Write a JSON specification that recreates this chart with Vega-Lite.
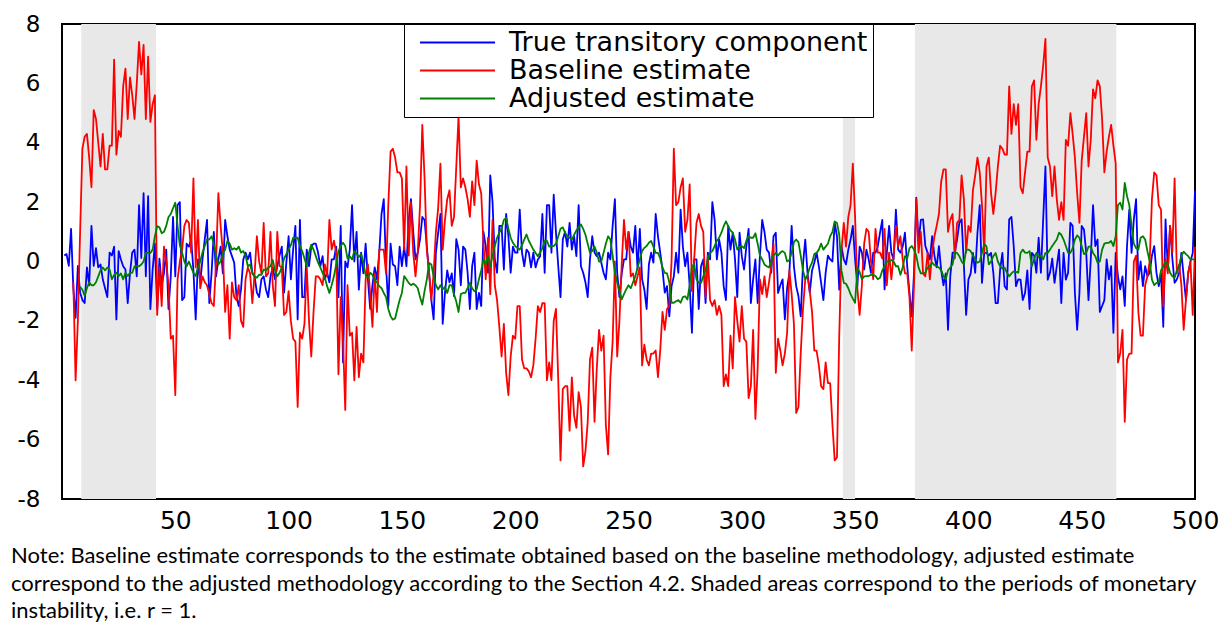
{
"$schema": "https://vega.github.io/schema/vega-lite/v6.json",
"width": 1133, "height": 475,
"autosize": {"type": "none"},
"padding": {"left": 62, "top": 24, "right": 28, "bottom": 125},
"background": "white",
"title": {"text": ["Note: Baseline estimate corresponds to the estimate obtained based on the baseline methodology, adjusted estimate", "correspond to the adjusted methodology according to the Section 4.2. Shaded areas correspond to the periods of monetary", "instability, i.e. r = 1."], "orient": "bottom", "anchor": "start", "frame": "bounds", "offset": 13, "font": "Lato", "fontSize": 22, "fontWeight": "normal", "color": "black", "lineHeight": 27.5, "dx": -6},
"datasets": {
"shade": [{"s": 8.5, "e": 41.5}, {"s": 344.6, "e": 350}, {"s": 376.4, "e": 465.3}],
"obs": [
{"t":1,"a":0.2},{"t":2,"a":0.25},{"t":3,"a":-0.15},{"t":4,"a":1.1},
{"t":5,"a":-0.9,"b":-0.7},{"t":6,"a":-1.9,"b":-4.0},{"t":7,"a":-0.15,"b":-2.0},
{"t":8,"a":-1.05,"b":1.0,"c":-0.85},{"t":9,"a":-1.3,"b":3.8,"c":-0.95},{"t":10,"a":-1.4,"b":4.2,"c":-1.15},
{"t":11,"a":-0.2,"b":4.3,"c":-0.9},{"t":12,"a":-0.8,"b":3.5,"c":-0.7},{"t":13,"a":1.2,"b":2.5,"c":-0.8},{"t":14,"a":-0.15,"b":5.1,"c":-0.8},{"t":15,"a":0.45,"b":4.8,"c":-0.7},
{"t":16,"a":-0.2,"b":4.0,"c":-0.5},{"t":17,"a":-0.1,"b":3.2,"c":-0.3},{"t":18,"a":-0.6,"b":4.3,"c":-0.2},{"t":19,"a":-0.9,"b":3.1,"c":-0.3},{"t":20,"a":-1.2,"b":3.1,"c":-0.2},
{"t":21,"a":0.3,"b":3.9,"c":-0.27},{"t":22,"a":0.2,"b":3.9,"c":-0.6},{"t":23,"a":0.5,"b":6.8,"c":-0.45},{"t":24,"a":-1.95,"b":3.6,"c":-0.38},{"t":25,"a":0.35,"b":4.4,"c":-0.49},
{"t":26,"a":0.07,"b":4.2,"c":-0.4},{"t":27,"a":-0.16,"b":5.9,"c":-0.6},{"t":28,"a":-0.27,"b":6.5,"c":-0.38},{"t":29,"a":-1.4,"b":4.8,"c":-0.49},{"t":30,"a":-0.4,"b":6.2,"c":-0.38},
{"t":31,"a":0.3,"b":5.6,"c":-0.38},{"t":32,"a":0.4,"b":4.8,"c":-0.16},{"t":33,"a":-0.5,"b":6.0,"c":-0.16},{"t":34,"a":1.9,"b":7.4,"c":-0.16},{"t":35,"a":0.12,"b":6.3,"c":-0.1},
{"t":36,"a":2.3,"b":7.3,"c":0.0},{"t":37,"a":-0.5,"b":4.8,"c":0.29},{"t":38,"a":2.2,"b":6.9,"c":0.29},{"t":39,"a":-1.6,"b":4.7,"c":0.29},{"t":40,"a":-0.27,"b":5.3,"c":0.4},
{"t":41,"a":0.6,"b":5.6,"c":0.85},{"t":42,"a":-1.6,"b":-1.8,"c":1.19},{"t":43,"a":0.1,"b":-0.2,"c":1.15},{"t":44,"a":-0.8,"b":-1.5,"c":0.95},{"t":45,"a":-0.4,"b":0.5,"c":1.0},
{"t":46,"a":0.4,"b":0.0,"c":1.2},{"t":47,"a":-1.6,"b":-0.8,"c":1.5},{"t":48,"a":-0.5,"b":-2.6,"c":1.6},{"t":49,"a":1.5,"b":-2.5,"c":1.8},{"t":50,"a":-0.5,"b":-4.5,"c":1.98},
{"t":51,"a":1.9,"b":-0.6,"c":1.2},{"t":52,"a":2.0,"b":0.0,"c":0.55},{"t":53,"a":-1.3,"b":0.4,"c":0.3},{"t":54,"a":-1.2,"b":1.2,"c":0.0},{"t":55,"a":0.6,"b":1.4,"c":-0.16},
{"t":56,"a":0.5,"b":1.3,"c":0.0},{"t":57,"a":0.75,"b":0.3,"c":-0.2},{"t":58,"a":-0.3,"b":2.8,"c":-0.38},{"t":59,"a":-1.95,"b":-0.2,"c":-0.49},{"t":60,"a":0.07,"b":1.4,"c":-0.2},
{"t":61,"a":-0.7,"b":-0.9,"c":0.0},{"t":62,"a":0.07,"b":-0.5,"c":0.3},{"t":63,"a":0.75,"b":-0.7,"c":0.52},{"t":64,"a":1.4,"b":-0.8,"c":0.74},{"t":65,"a":-1.4,"b":-1.1,"c":0.74},
{"t":66,"a":-0.4,"b":-1.4,"c":0.85},{"t":67,"a":1.0,"b":-1.5,"c":0.6},{"t":68,"a":-0.5,"b":0.0,"c":0.2},{"t":69,"a":0.07,"b":2.3,"c":-0.1},{"t":70,"a":0.5,"b":1.2,"c":0.0},
{"t":71,"a":-0.4,"b":0.3,"c":0.29},{"t":72,"a":1.4,"b":-1.7,"c":0.4},{"t":73,"a":0.85,"b":-0.8,"c":0.69},{"t":74,"a":0.4,"b":-2.6,"c":0.6},{"t":75,"a":0.18,"b":-0.7,"c":0.4},
{"t":76,"a":-0.04,"b":-1.2,"c":0.45},{"t":77,"a":-1.2,"b":-1.3,"c":0.4},{"t":78,"a":-1.5,"b":-0.8,"c":0.5},{"t":79,"a":-0.94,"b":-2.0,"c":0.3},{"t":80,"a":0.07,"b":-2.2,"c":0.35},
{"t":81,"a":0.3,"b":-0.6,"c":0.2},{"t":82,"a":0.07,"b":-0.2,"c":-0.16},{"t":83,"a":0.3,"b":-0.4,"c":-0.1},{"t":84,"a":-0.4,"b":-1.4,"c":-0.38},{"t":85,"a":-0.5,"b":-0.4,"c":-0.5},
{"t":86,"a":-1.05,"b":0.85,"c":-0.55},{"t":87,"a":-1.2,"b":0.0,"c":-0.44},{"t":88,"a":-0.6,"b":-0.4,"c":-0.45},{"t":89,"a":-0.5,"b":1.3,"c":-0.27},{"t":90,"a":-0.94,"b":-0.5,"c":-0.3},
{"t":91,"a":-1.2,"b":-0.4,"c":-0.2},{"t":92,"a":-0.5,"b":1.0,"c":-0.16},{"t":93,"a":-0.2,"b":-0.8,"c":0.05},{"t":94,"a":-0.6,"b":-1.5,"c":-0.3},{"t":95,"a":-0.16,"b":1.0,"c":-0.5},
{"t":96,"a":0.2,"b":-0.15,"c":-0.38},{"t":97,"a":0.5,"b":-0.2,"c":-0.2},{"t":98,"a":-1.05,"b":-1.8,"c":0.1},{"t":99,"a":-0.04,"b":-1.7,"c":0.25},{"t":100,"a":0.85,"b":-1.0,"c":0.4},
{"t":101,"a":-0.6,"b":-2.0,"c":0.55},{"t":102,"a":0.4,"b":-2.6,"c":0.8},{"t":103,"a":1.2,"b":-2.7,"c":0.8},{"t":104,"a":-1.95,"b":-4.9,"c":0.8},{"t":105,"a":1.4,"b":-2.4,"c":0.52},
{"t":106,"a":-1.2,"b":-2.6,"c":0.35},{"t":107,"a":-1.2,"b":-2.1,"c":0.1},{"t":108,"a":0.4,"b":-0.15,"c":-0.16},{"t":109,"a":-0.16,"b":-2.0,"c":0.3},{"t":110,"a":0.5,"b":-3.2,"c":0.57},
{"t":111,"a":0.6,"b":-1.7,"c":0.4},{"t":112,"a":0.6,"b":-0.5,"c":0.18},{"t":113,"a":0.3,"b":-0.5,"c":-0.04},{"t":114,"a":-0.16,"b":-0.6,"c":-0.2},{"t":115,"a":0.18,"b":-0.8,"c":-0.38},
{"t":116,"a":-0.6,"b":-0.1,"c":-0.55},{"t":117,"a":-0.38,"b":-0.5,"c":-0.83},{"t":118,"a":-0.7,"b":1.4,"c":-1.06},{"t":119,"a":0.07,"b":0.4,"c":-0.8},{"t":120,"a":0.07,"b":0.7,"c":-0.5},
{"t":121,"a":0.5,"b":0.3,"c":-0.1},{"t":122,"a":-1.2,"b":-3.8,"c":0.35},{"t":123,"a":1.2,"b":-1.2,"c":0.52},{"t":124,"a":-3.4,"b":-2.6,"c":0.63},{"t":125,"a":0.0,"b":-5.0,"c":0.52},
{"t":126,"a":-0.2,"b":-0.8,"c":0.1},{"t":127,"a":0.4,"b":-2.5,"c":0.18},{"t":128,"a":1.9,"b":-2.4,"c":0.07},{"t":129,"a":0.0,"b":-4.0,"c":0.35},{"t":130,"a":1.0,"b":-2.2,"c":0.26},
{"t":131,"a":-0.95,"b":-3.9,"c":0.15},{"t":132,"a":0.3,"b":-3.1,"c":0.25},{"t":133,"a":-0.4,"b":-3.4,"c":-0.04},{"t":134,"a":0.6,"b":-0.6,"c":-0.45},{"t":135,"a":-0.6,"b":-0.1,"c":-0.55},
{"t":136,"a":-1.6,"b":-1.1,"c":-0.38},{"t":137,"a":-0.8,"b":-2.2,"c":-0.45},{"t":138,"a":-0.2,"b":-0.4,"c":-0.61},{"t":139,"a":-0.6,"b":-1.7,"c":-0.7},{"t":140,"a":0.3,"b":0.4,"c":-0.83},
{"t":141,"a":1.6,"b":0.4,"c":-0.9},{"t":142,"a":2.1,"b":0.4,"c":-1.06},{"t":143,"a":-0.16,"b":-0.4,"c":-1.2},{"t":144,"a":-1.5,"b":1.9,"c":-1.6},{"t":145,"a":0.6,"b":3.7,"c":-1.84},
{"t":146,"a":-0.1,"b":3.8,"c":-1.96},{"t":147,"a":-0.16,"b":3.5,"c":-1.92},{"t":148,"a":-0.8,"b":3.0,"c":-1.6},{"t":149,"a":0.5,"b":3.0,"c":-1.3},{"t":150,"a":-0.16,"b":2.8,"c":-1.06},
{"t":151,"a":0.5,"b":0.4,"c":-0.49},{"t":152,"a":-0.16,"b":3.2,"c":-0.6},{"t":153,"a":1.4,"b":0.2,"c":-0.72},{"t":154,"a":2.1,"b":2.0,"c":-0.8},{"t":155,"a":1.0,"b":0.3,"c":-0.75},
{"t":156,"a":0.07,"b":-0.5,"c":-0.8},{"t":157,"a":0.3,"b":0.3,"c":-0.9},{"t":158,"a":0.75,"b":1.9,"c":-1.2},{"t":159,"a":1.5,"b":4.6,"c":-1.45},{"t":160,"a":1.4,"b":2.8,"c":-1.0},
{"t":161,"a":0.5,"b":0.4,"c":-0.6},{"t":162,"a":-0.38,"b":-0.4,"c":-0.05},{"t":163,"a":-1.3,"b":-1.3,"c":-0.1},{"t":164,"a":-1.95,"b":-0.4,"c":-0.5},{"t":165,"a":0.3,"b":1.0,"c":-0.8},
{"t":166,"a":0.97,"b":1.8,"c":-0.94},{"t":167,"a":1.6,"b":3.3,"c":-0.8},{"t":168,"a":-2.1,"b":0.4,"c":-0.94},{"t":169,"a":-1.06,"b":1.4,"c":-0.85},{"t":170,"a":-0.3,"b":2.1,"c":-1.06},
{"t":171,"a":-0.7,"b":2.4,"c":-0.8},{"t":172,"a":-0.4,"b":1.2,"c":-0.8},{"t":173,"a":-1.17,"b":1.5,"c":-1.1},{"t":174,"a":0.75,"b":3.2,"c":-1.35},{"t":175,"a":0.4,"b":4.9,"c":-1.7},
{"t":176,"a":-0.8,"b":2.5,"c":-1.1},{"t":177,"a":0.5,"b":2.8,"c":-1.06},{"t":178,"a":0.4,"b":2.5,"c":-1.06},{"t":179,"a":-0.38,"b":2.1,"c":-0.9},{"t":180,"a":-1.6,"b":1.5,"c":-0.72},
{"t":181,"a":-0.16,"b":2.7,"c":-0.9},{"t":182,"a":0.3,"b":1.9,"c":-1.0},{"t":183,"a":-1.6,"b":3.4,"c":-0.94},{"t":184,"a":-1.06,"b":2.6,"c":-0.6},{"t":185,"a":-1.5,"b":2.3,"c":-0.3},
{"t":186,"a":1.0,"b":0.6,"c":0.07},{"t":187,"a":0.5,"b":-0.6,"c":-0.1},{"t":188,"a":-0.38,"b":0.8,"c":0.2},{"t":189,"a":2.9,"b":-1.1,"c":-0.16},{"t":190,"a":2.0,"b":1.4,"c":0.2},
{"t":191,"a":0.07,"b":-0.8,"c":0.52},{"t":192,"a":-0.38,"b":-1.3,"c":0.8},{"t":193,"a":1.2,"b":-2.2,"c":0.97},{"t":194,"a":1.2,"b":-3.2,"c":1.12},{"t":195,"a":-0.27,"b":-2.1,"c":1.4},
{"t":196,"a":1.6,"b":-3.75,"c":1.47},{"t":197,"a":0.85,"b":-4.5,"c":1.1},{"t":198,"a":-0.38,"b":-3.2,"c":0.8},{"t":199,"a":0.5,"b":-2.5,"c":0.63},{"t":200,"a":0.3,"b":-2.6,"c":0.52},
{"t":201,"a":0.3,"b":-1.5,"c":0.45},{"t":202,"a":1.75,"b":-1.5,"c":0.4},{"t":203,"a":0.3,"b":-3.3,"c":0.55},{"t":204,"a":-0.16,"b":-3.6,"c":0.74},{"t":205,"a":0.4,"b":-3.6,"c":0.91},
{"t":206,"a":0.3,"b":-3.7,"c":0.7},{"t":207,"a":-0.2,"b":-3.9,"c":0.55},{"t":208,"a":0.3,"b":-3.5,"c":0.4},{"t":209,"a":-0.2,"b":-2.6,"c":0.29},{"t":210,"a":0.07,"b":-1.5,"c":0.18},
{"t":211,"a":0.18,"b":-1.7,"c":0.3},{"t":212,"a":1.6,"b":-1.4,"c":0.45},{"t":213,"a":-0.38,"b":-1.4,"c":0.69},{"t":214,"a":1.9,"b":-4.0,"c":0.7},{"t":215,"a":1.9,"b":-3.4,"c":0.5},
{"t":216,"a":0.3,"b":-4.0,"c":0.52},{"t":217,"a":2.25,"b":-2.0,"c":0.52},{"t":218,"a":0.97,"b":-1.6,"c":0.6},{"t":219,"a":-0.16,"b":-4.0,"c":0.85},{"t":220,"a":-1.2,"b":-6.7,"c":1.1},
{"t":221,"a":0.74,"b":-4.3,"c":1.15},{"t":222,"a":1.0,"b":-4.2,"c":0.97},{"t":223,"a":0.5,"b":-4.2,"c":0.85},{"t":224,"a":1.3,"b":-5.7,"c":0.8},{"t":225,"a":0.4,"b":-3.9,"c":0.74},
{"t":226,"a":0.85,"b":-5.2,"c":0.9},{"t":227,"a":0.18,"b":-5.6,"c":1.05},{"t":228,"a":1.9,"b":-4.4,"c":1.15},{"t":229,"a":-0.16,"b":-4.9,"c":1.25},{"t":230,"a":-0.38,"b":-6.9,"c":1.1},
{"t":231,"a":-0.7,"b":-6.4,"c":0.9},{"t":232,"a":-1.2,"b":-5.4,"c":0.6},{"t":233,"a":0.07,"b":-3.3,"c":0.29},{"t":234,"a":0.85,"b":-2.9,"c":0.35},{"t":235,"a":0.3,"b":-5.4,"c":0.5},
{"t":236,"a":0.18,"b":-3.6,"c":0.3},{"t":237,"a":0.3,"b":-2.3,"c":0.0},{"t":238,"a":-0.04,"b":-3.0,"c":0.0},{"t":239,"a":-0.38,"b":-2.5,"c":0.29},{"t":240,"a":-0.6,"b":-5.5,"c":0.6},
{"t":241,"a":0.3,"b":-6.5,"c":0.85},{"t":242,"a":0.07,"b":-3.9,"c":0.74},{"t":243,"a":1.2,"b":-2.7,"c":0.2},{"t":244,"a":2.1,"b":0.0,"c":-0.38},{"t":245,"a":-0.38,"b":-3.2,"c":-0.7},
{"t":246,"a":-1.2,"b":-2.0,"c":-1.0},{"t":247,"a":-0.4,"b":-0.1,"c":-1.28},{"t":248,"a":0.07,"b":1.4,"c":-1.1},{"t":249,"a":0.07,"b":0.4,"c":-0.94},{"t":250,"a":1.0,"b":1.0,"c":-0.8},
{"t":251,"a":0.5,"b":-0.5,"c":-0.9},{"t":252,"a":0.3,"b":-0.4,"c":-0.7},{"t":253,"a":1.2,"b":-0.8,"c":-0.5},{"t":254,"a":-0.27,"b":-0.5,"c":-0.2},{"t":255,"a":1.1,"b":-0.2,"c":0.07},
{"t":256,"a":-0.6,"b":-3.5,"c":0.35},{"t":257,"a":-0.95,"b":-2.8,"c":0.46},{"t":258,"a":-1.6,"b":-3.3,"c":0.52},{"t":259,"a":-0.1,"b":-3.5,"c":0.63},{"t":260,"a":0.3,"b":-3.1,"c":0.69},
{"t":261,"a":-0.04,"b":-3.1,"c":0.5},{"t":262,"a":1.6,"b":-3.0,"c":0.29},{"t":263,"a":0.85,"b":-3.9,"c":0.29},{"t":264,"a":0.3,"b":-3.0,"c":0.1},{"t":265,"a":-0.27,"b":-1.7,"c":-0.2},
{"t":266,"a":-1.05,"b":-2.3,"c":-0.38},{"t":267,"a":-0.83,"b":-1.6,"c":-0.4},{"t":268,"a":-1.85,"b":-1.5,"c":-0.7},{"t":269,"a":-0.83,"b":0.0,"c":-1.39},{"t":270,"a":-0.5,"b":3.8,"c":-1.39},
{"t":271,"a":0.3,"b":1.9,"c":-1.34},{"t":272,"a":-0.38,"b":2.0,"c":-1.3},{"t":273,"a":1.75,"b":2.5,"c":-1.39},{"t":274,"a":0.5,"b":2.8,"c":-1.2},{"t":275,"a":-0.16,"b":1.0,"c":-1.17},
{"t":276,"a":0.3,"b":1.4,"c":-1.28},{"t":277,"a":-0.83,"b":2.6,"c":-0.8},{"t":278,"a":-2.4,"b":-1.0,"c":-0.16},{"t":279,"a":0.07,"b":0.1,"c":-0.1},{"t":280,"a":0.07,"b":1.3,"c":-0.6},
{"t":281,"a":-1.6,"b":1.6,"c":-0.72},{"t":282,"a":-0.16,"b":1.2,"c":-0.72},{"t":283,"a":0.07,"b":1.0,"c":-0.5},{"t":284,"a":-1.4,"b":-1.2,"c":-0.3},{"t":285,"a":0.3,"b":0.2,"c":0.07},
{"t":286,"a":0.07,"b":-1.3,"c":0.29},{"t":287,"a":2.0,"b":-1.5,"c":0.35},{"t":288,"a":1.4,"b":-1.3,"c":0.52},{"t":289,"a":0.07,"b":-1.8,"c":0.7},{"t":290,"a":0.74,"b":-1.5,"c":0.8},
{"t":291,"a":0.3,"b":-1.8,"c":0.97},{"t":292,"a":-0.83,"b":-4.2,"c":1.19},{"t":293,"a":-1.3,"b":-3.8,"c":1.35},{"t":294,"a":1.2,"b":-4.2,"c":1.19},{"t":295,"a":0.4,"b":-2.5,"c":1.05},
{"t":296,"a":0.97,"b":-3.6,"c":0.97},{"t":297,"a":0.07,"b":-1.2,"c":0.74},{"t":298,"a":-1.2,"b":-2.0,"c":0.4},{"t":299,"a":0.97,"b":-2.7,"c":0.5},{"t":300,"a":0.18,"b":-1.5,"c":0.52},
{"t":301,"a":-0.27,"b":-2.6,"c":0.45},{"t":302,"a":0.5,"b":-2.7,"c":0.7},{"t":303,"a":1.1,"b":-4.6,"c":0.85},{"t":304,"a":-1.4,"b":-4.2,"c":0.8},{"t":305,"a":-0.6,"b":-2.3,"c":0.8},
{"t":306,"a":0.07,"b":-5.3,"c":0.95},{"t":307,"a":-1.4,"b":-3.6,"c":0.6},{"t":308,"a":0.2,"b":-0.6,"c":0.2},{"t":309,"a":1.4,"b":-1.1,"c":0.07},{"t":310,"a":1.0,"b":-0.5,"c":-0.1},
{"t":311,"a":0.4,"b":-1.2,"c":-0.16},{"t":312,"a":0.3,"b":-0.7,"c":-0.2},{"t":313,"a":-0.38,"b":-0.15,"c":0.0},{"t":314,"a":0.85,"b":0.6,"c":0.2},{"t":315,"a":0.97,"b":-3.75,"c":0.29},
{"t":316,"a":-1.06,"b":-2.6,"c":0.2},{"t":317,"a":-0.8,"b":-3.0,"c":0.3},{"t":318,"a":-0.6,"b":-3.5,"c":0.35},{"t":319,"a":-1.95,"b":-3.1,"c":0.29},{"t":320,"a":-0.9,"b":-2.4,"c":0.0},
{"t":321,"a":-0.38,"b":-0.3,"c":0.05},{"t":322,"a":1.2,"b":-1.1,"c":0.3},{"t":323,"a":-0.16,"b":-2.1,"c":0.65},{"t":324,"a":-0.83,"b":-5.1,"c":0.74},{"t":325,"a":-1.17,"b":-4.9,"c":0.65},
{"t":326,"a":-1.85,"b":-3.1,"c":0.2},{"t":327,"a":-0.1,"b":-1.6,"c":-0.3},{"t":328,"a":0.74,"b":-0.6,"c":-0.6},{"t":329,"a":-0.38,"b":-0.5,"c":-0.45},{"t":330,"a":-1.06,"b":-1.0,"c":-0.2},
{"t":331,"a":-0.3,"b":-1.7,"c":-0.04},{"t":332,"a":-0.04,"b":-3.0,"c":0.25},{"t":333,"a":0.3,"b":-3.0,"c":0.29},{"t":334,"a":-0.16,"b":-3.5,"c":0.4},{"t":335,"a":-0.72,"b":-4.2,"c":0.6},
{"t":336,"a":-1.3,"b":-4.3,"c":0.4},{"t":337,"a":-0.38,"b":-3.4,"c":0.5},{"t":338,"a":0.2,"b":-4.1,"c":0.6},{"t":339,"a":0.07,"b":-4.1,"c":0.85},{"t":340,"a":0.0,"b":-5.5,"c":1.0},
{"t":341,"a":1.3,"b":-6.7,"c":1.35},{"t":342,"a":0.85,"b":-6.6,"c":1.3},{"t":343,"a":-0.95,"b":-2.5,"c":0.9},{"t":344,"a":0.5,"b":0.4,"c":-0.3},{"t":345,"a":0.07,"b":1.3,"c":-0.72},
{"t":346,"a":-0.1,"b":0.5,"c":-0.75},{"t":347,"a":0.4,"b":1.5,"c":-0.9},{"t":348,"a":0.74,"b":1.9,"c":-1.1},{"t":349,"a":1.2,"b":3.3,"c":-1.25},{"t":350,"a":0.07,"b":1.5,"c":-1.39},
{"t":351,"a":-0.83,"b":-0.9,"c":-0.2},{"t":352,"a":0.5,"b":-1.8,"c":-0.35},{"t":353,"a":0.3,"b":-0.8,"c":-0.6},{"t":354,"a":-0.27,"b":0.6,"c":-0.5},{"t":355,"a":0.4,"b":1.1,"c":-0.49},
{"t":356,"a":0.07,"b":1.0,"c":-0.49},{"t":357,"a":-0.38,"b":0.0,"c":-0.45},{"t":358,"a":0.3,"b":-0.6,"c":-0.45},{"t":359,"a":0.3,"b":1.1,"c":-0.49},{"t":360,"a":0.5,"b":0.3,"c":-0.6},
{"t":361,"a":0.97,"b":0.3,"c":-0.55},{"t":362,"a":1.4,"b":0.1,"c":-0.3},{"t":363,"a":-0.94,"b":1.1,"c":-0.16},{"t":364,"a":0.3,"b":-0.8,"c":0.0},{"t":365,"a":1.2,"b":0.3,"c":0.0},
{"t":366,"a":0.3,"b":-0.6,"c":0.05},{"t":367,"a":0.07,"b":0.2,"c":0.0},{"t":368,"a":1.75,"b":1.2,"c":-0.16},{"t":369,"a":0.4,"b":0.5,"c":-0.16},{"t":370,"a":0.3,"b":0.85,"c":-0.45},
{"t":371,"a":0.5,"b":0.07,"c":-0.2},{"t":372,"a":0.97,"b":-0.4,"c":0.18},{"t":373,"a":-0.16,"b":-0.4,"c":0.1},{"t":374,"a":-1.06,"b":-1.2,"c":0.45},{"t":375,"a":-1.85,"b":-3.0,"c":0.52},
{"t":376,"a":-0.38,"b":-0.8,"c":0.4},{"t":377,"a":2.15,"b":2.1,"c":0.2},{"t":378,"a":0.6,"b":0.3,"c":-0.2},{"t":379,"a":1.4,"b":1.0,"c":-0.4},{"t":380,"a":1.42,"b":-0.4,"c":-0.4},
{"t":381,"a":0.52,"b":-0.5,"c":-0.38},{"t":382,"a":0.29,"b":0.3,"c":-0.2},{"t":383,"a":0.07,"b":-0.6,"c":-0.15},{"t":384,"a":0.85,"b":0.3,"c":-0.04},{"t":385,"a":0.2,"b":0.85,"c":-0.12},
{"t":386,"a":-0.2,"b":1.2,"c":-0.16},{"t":387,"a":0.52,"b":1.6,"c":-0.2},{"t":388,"a":-0.3,"b":2.7,"c":-0.3},{"t":389,"a":-0.8,"b":3.1,"c":-0.5},{"t":390,"a":-0.4,"b":3.1,"c":-0.6},
{"t":391,"a":-2.3,"b":1.0,"c":-0.3},{"t":392,"a":-0.5,"b":1.4,"c":-0.2},{"t":393,"a":0.3,"b":1.6,"c":-0.1},{"t":394,"a":0.3,"b":0.1,"c":0.3},{"t":395,"a":0.74,"b":1.3,"c":0.29},
{"t":396,"a":1.3,"b":1.4,"c":0.18},{"t":397,"a":1.42,"b":2.9,"c":0.0},{"t":398,"a":-0.1,"b":2.1,"c":-0.1},{"t":399,"a":-1.8,"b":0.3,"c":0.4},{"t":400,"a":-0.61,"b":1.2,"c":0.4},
{"t":401,"a":-0.4,"b":1.0,"c":0.35},{"t":402,"a":0.29,"b":2.4,"c":0.2},{"t":403,"a":-0.38,"b":2.9,"c":0.07},{"t":404,"a":0.97,"b":3.5,"c":-0.04},{"t":405,"a":1.9,"b":3.0,"c":0.0},
{"t":406,"a":-0.72,"b":1.9,"c":0.29},{"t":407,"a":0.29,"b":0.3,"c":0.6},{"t":408,"a":0.29,"b":3.2,"c":0.5},{"t":409,"a":0.2,"b":3.5,"c":-0.1},{"t":410,"a":0.29,"b":2.3,"c":0.0},
{"t":411,"a":-0.38,"b":1.6,"c":0.18},{"t":412,"a":-1.4,"b":2.3,"c":0.29},{"t":413,"a":-1.4,"b":3.2,"c":0.0},{"t":414,"a":-0.27,"b":3.9,"c":-0.16},{"t":415,"a":0.29,"b":3.8,"c":-0.24},
{"t":416,"a":-0.83,"b":3.6,"c":-0.21},{"t":417,"a":-0.94,"b":3.6,"c":-0.38},{"t":418,"a":1.42,"b":5.9,"c":-0.5},{"t":419,"a":1.5,"b":4.3,"c":-0.4},{"t":420,"a":0.52,"b":5.3,"c":-0.33},
{"t":421,"a":-0.83,"b":4.6,"c":-0.35},{"t":422,"a":-0.6,"b":5.3,"c":-0.38},{"t":423,"a":-0.61,"b":2.5,"c":0.29},{"t":424,"a":-1.3,"b":2.3,"c":0.4},{"t":425,"a":-1.06,"b":3.0,"c":0.3},
{"t":426,"a":-0.3,"b":3.7,"c":0.29},{"t":427,"a":-1.6,"b":3.7,"c":0.35},{"t":428,"a":0.29,"b":5.9,"c":-0.16},{"t":429,"a":0.2,"b":6.1,"c":0.07},{"t":430,"a":-0.38,"b":4.1,"c":0.29},
{"t":431,"a":0.8,"b":5.3,"c":0.15},{"t":432,"a":-0.38,"b":5.9,"c":0.2},{"t":433,"a":1.42,"b":6.6,"c":0.07},{"t":434,"a":3.2,"b":7.5,"c":0.29},{"t":435,"a":-0.61,"b":3.5,"c":0.29},
{"t":436,"a":-0.38,"b":3.2,"c":0.4},{"t":437,"a":0.1,"b":2.2,"c":0.52},{"t":438,"a":-0.72,"b":3.2,"c":0.63},{"t":439,"a":-0.16,"b":2.1,"c":0.74},{"t":440,"a":0.4,"b":1.4,"c":0.97},
{"t":441,"a":-1.4,"b":2.0,"c":0.9},{"t":442,"a":0.29,"b":1.4,"c":0.74},{"t":443,"a":-0.61,"b":4.1,"c":0.52},{"t":444,"a":-0.38,"b":3.9,"c":0.3},{"t":445,"a":1.3,"b":5.0,"c":0.29},
{"t":446,"a":1.2,"b":4.3,"c":0.45},{"t":447,"a":-1.06,"b":3.5,"c":0.74},{"t":448,"a":-2.3,"b":2.3,"c":0.88},{"t":449,"a":-1.06,"b":1.3,"c":0.8},{"t":450,"a":1.2,"b":3.4,"c":0.52},
{"t":451,"a":1.08,"b":4.2,"c":0.25},{"t":452,"a":0.29,"b":5.0,"c":0.29},{"t":453,"a":-1.3,"b":3.2,"c":0.5},{"t":454,"a":0.07,"b":4.1,"c":0.5},{"t":455,"a":1.9,"b":5.8,"c":0.29},
{"t":456,"a":0.52,"b":5.5,"c":0.18},{"t":457,"a":0.74,"b":6.1,"c":-0.04},{"t":458,"a":-1.7,"b":5.9,"c":0.0},{"t":459,"a":-1.5,"b":4.8,"c":0.4},{"t":460,"a":-1.3,"b":3.0,"c":0.6},
{"t":461,"a":0.07,"b":3.7,"c":0.63},{"t":462,"a":-0.6,"b":4.2,"c":0.63},{"t":463,"a":-0.16,"b":4.6,"c":0.69},{"t":464,"a":-2.4,"b":3.9,"c":0.52},{"t":465,"a":0.29,"b":3.3,"c":0.85},
{"t":466,"a":-0.5,"b":-3.4,"c":1.9},{"t":467,"a":-0.94,"b":-3.1,"c":1.98},{"t":468,"a":-0.5,"b":-2.3,"c":1.75},{"t":469,"a":-1.5,"b":-5.4,"c":2.65},{"t":470,"a":0.52,"b":-3.3,"c":2.2},
{"t":471,"a":1.75,"b":-3.1,"c":1.9},{"t":472,"a":0.29,"b":-3.1,"c":1.2},{"t":473,"a":1.42,"b":0.0,"c":0.6},{"t":474,"a":2.1,"b":0.2,"c":0.45},{"t":475,"a":-0.61,"b":-1.7,"c":0.4},
{"t":476,"a":0.0,"b":-2.5,"c":0.8},{"t":477,"a":-0.83,"b":-2.5,"c":0.85},{"t":478,"a":-0.16,"b":-0.8,"c":0.74},{"t":479,"a":-0.5,"b":-0.5,"c":0.35},{"t":480,"a":-0.38,"b":0.0,"c":0.0},
{"t":481,"a":0.2,"b":2.1,"c":-0.61},{"t":482,"a":0.52,"b":3.0,"c":-0.8},{"t":483,"a":-0.38,"b":2.9,"c":-0.72},{"t":484,"a":-0.83,"b":1.9,"c":-0.7},{"t":485,"a":-0.4,"b":1.75,"c":-0.3},
{"t":486,"a":-2.2,"b":-1.5,"c":-0.16},{"t":487,"a":1.42,"b":0.1,"c":0.0},{"t":488,"a":-0.27,"b":-0.4,"c":-0.1},{"t":489,"a":1.2,"b":1.2,"c":-0.38},{"t":490,"a":0.1,"b":0.3,"c":-0.5},
{"t":491,"a":-0.72,"b":2.8,"c":-0.55},{"t":492,"a":-0.6,"b":-0.4,"c":-0.3},{"t":493,"a":-0.38,"b":-0.1,"c":-0.16},{"t":494,"a":0.29,"b":-0.8,"c":0.2},{"t":495,"a":-0.5,"b":-2.3,"c":0.33},
{"t":496,"a":-1.3,"b":-1.3,"c":0.25},{"t":497,"a":-0.38,"b":-0.4,"c":0.18},{"t":498,"a":0.0,"b":0.0,"c":0.07},{"t":499,"a":0.29,"b":-1.8,"c":0.07},{"t":500,"a":2.4,"b":0.5,"c":0.07}
]},
"layer": [
{"data": {"name": "shade"},
 "mark": {"type": "rect", "color": "#e8e8e8"},
 "encoding": {
  "x": {"field": "s", "type": "quantitative", "scale": {"domain": [0, 500], "nice": false, "zero": false}, "title": null,
        "axis": {"values": [50, 100, 150, 200, 250, 300, 350, 400, 450, 500], "labelFontSize": 25, "labelPadding": 9}},
  "x2": {"field": "e"}}},
{"data": {"name": "obs"},
 "transform": [{"fold": ["a", "b", "c"], "as": ["s", "v"]}],
 "mark": {"type": "line", "strokeWidth": 1.8, "strokeJoin": "round"},
 "encoding": {
  "x": {"field": "t", "type": "quantitative", "title": null,
        "axis": {"values": [50, 100, 150, 200, 250, 300, 350, 400, 450, 500], "labelFontSize": 25, "labelPadding": 9}},
  "y": {"field": "v", "type": "quantitative", "scale": {"domain": [-8, 8], "nice": false}, "title": null,
        "axis": {"values": [-8, -6, -4, -2, 0, 2, 4, 6, 8], "labelFontSize": 23, "labelPadding": 22, "labelExpr": "'' + datum.value"}},
  "color": {"field": "s", "type": "nominal",
   "scale": {"domain": ["a", "b", "c"], "range": ["#0000ff", "#ff0000", "#008000"]},
   "legend": {"title": null, "orient": "none", "legendX": 342, "legendY": 0,
     "labelExpr": "datum.label == 'a' ? 'True transitory component' : datum.label == 'b' ? 'Baseline estimate' : 'Adjusted estimate'",
     "symbolType": "M-3,0L3,0", "symbolSize": 625, "symbolStrokeWidth": 2,
     "labelFontSize": 27, "labelFont": "DejaVu Sans", "labelColor": "black", "labelLimit": 0,
     "padding": 5, "symbolOffset": 35, "labelOffset": 38, "rowPadding": 0,
     "strokeColor": "black", "fillColor": "white"}}}}
],
"config": {
 "view": {"stroke": "black", "strokeWidth": 2},
 "axis": {"domain": false, "grid": false, "ticks": false, "labelColor": "black", "labelFont": "DejaVu Sans", "labelFlush": false, "labelOverlap": false}
}
}
